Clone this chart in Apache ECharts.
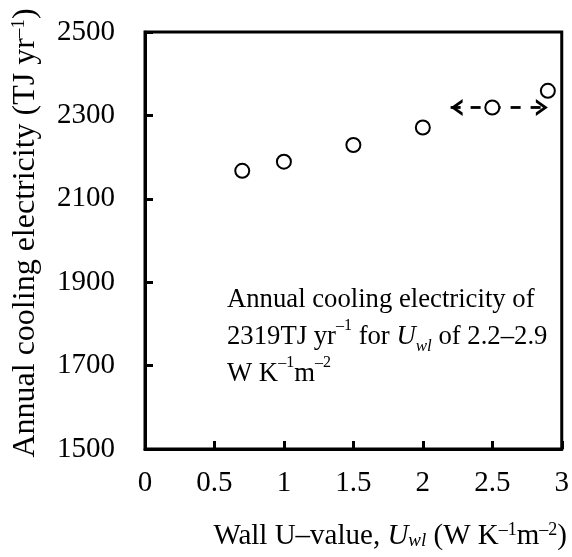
<!DOCTYPE html>
<html>
<head>
<meta charset="utf-8">
<script src="https://cdn.jsdelivr.net/npm/echarts@6/dist/echarts.min.js"></script>
<style>
  html, body { margin: 0; padding: 0; background: #fff; }
  #chart { width: 572px; height: 557px; }
</style>
</head>
<body>
<div id="chart"></div>
<script>
// Wall U-value (W K^-1 m^-2) and annual cooling electricity (TJ/yr)
const uValues = [0.7, 1.0, 1.5, 2.0, 2.5, 2.9];
const coolingTJ = [2167, 2189, 2229, 2271, 2319, 2359];

// Flat range: same cooling demand across this U-value span
const flatRangeU = [2.2, 2.9];
const flatCooling = 2319;

// Axis ranges
const xRange = { min: 0, max: 3, step: 0.5 };
const yRange = { min: 1500, max: 2500, step: 200 };

const serif = "'Liberation Serif', 'Times New Roman', serif";

// Open chevron (points up before rotation)
const chevron = 'path://M0,10 L10,0 L20,10 L16,10 L10,4 L4,10 Z';

const chart = echarts.init(document.getElementById('chart'), null, { renderer: 'canvas' });

const supStyle = (size, lh) => ({ fontFamily: serif, fontSize: size, verticalAlign: 'top', lineHeight: lh, color: '#000' });
const subStyle = (size, lh) => ({ fontFamily: serif, fontSize: size, fontStyle: 'italic', verticalAlign: 'bottom', lineHeight: lh, color: '#000' });

chart.setOption({
  animation: false,
  backgroundColor: '#fff',
  grid: {
    left: 145, top: 32, width: 419, height: 417,
    show: true, borderColor: '#000', borderWidth: 3, backgroundColor: 'transparent'
  },
  xAxis: {
    type: 'value', min: xRange.min, max: xRange.max, interval: xRange.step,
    axisLine: { show: true, lineStyle: { color: '#000', width: 3 } },
    axisTick: { show: true, inside: true, length: 8, lineStyle: { color: '#000', width: 3 } },
    splitLine: { show: false },
    axisLabel: {
      showMinLabel: true, showMaxLabel: true, margin: 20,
      fontFamily: serif, fontSize: 29, color: '#000', lineHeight: 29,
      formatter: (v) => String(v)
    }
  },
  yAxis: {
    type: 'value', min: yRange.min, max: yRange.max, interval: yRange.step,
    axisLine: { show: true, lineStyle: { color: '#000', width: 3 } },
    axisTick: { show: true, inside: true, length: 8, lineStyle: { color: '#000', width: 3 } },
    splitLine: { show: false },
    axisLabel: {
      showMinLabel: true, showMaxLabel: true, margin: 30,
      fontFamily: serif, fontSize: 29, color: '#000',
      formatter: (v) => String(v)
    }
  },
  series: [
    {
      // dashed double arrow marking the flat range
      type: 'line',
      z: 2,
      data: [
        { value: [flatRangeU[0], flatCooling], symbolRotate: 90, symbolOffset: [6, 0] },
        { value: [flatRangeU[1], flatCooling], symbolRotate: -90, symbolOffset: [-6, 0] }
      ],
      symbol: chevron,
      symbolSize: [17, 12],
      showSymbol: true,
      itemStyle: { color: '#000' },
      lineStyle: { color: '#000', width: 2.8, type: [10, 10] },
      silent: true
    },
    {
      type: 'scatter',
      z: 3,
      data: uValues.map((u, i) => [u, coolingTJ[i]]),
      symbol: 'circle',
      symbolSize: 14,
      itemStyle: { color: '#fff', borderColor: '#000', borderWidth: 2, opacity: 1 },
      silent: true
    }
  ],
  graphic: [
    {
      // y-axis title
      type: 'text',
      x: 26, y: 233,
      rotation: Math.PI / 2,
      style: {
        text: 'Annual cooling electricity (TJ yr{sup|–1})',
        fontFamily: serif, fontSize: 32, fill: '#000',
        align: 'center', verticalAlign: 'middle', lineHeight: 32,
        rich: { sup: supStyle(19, 19) }
      }
    },
    {
      // x-axis title
      type: 'text',
      x: 567, y: 536,
      style: {
        text: 'Wall U–value, {it|U}{sub|wl} (W K{sup|–1}m{sup|–2})',
        fontFamily: serif, fontSize: 29, fill: '#000',
        align: 'right', verticalAlign: 'middle', lineHeight: 29,
        rich: {
          it: { fontFamily: serif, fontSize: 29, fontStyle: 'italic', lineHeight: 29, color: '#000' },
          sub: subStyle(19, 19),
          sup: supStyle(18, 18)
        }
      }
    },
    {
      // annotation inside the plot
      type: 'text',
      x: 227, y: 281,
      style: {
        text: 'Annual cooling electricity of\n2319TJ yr{sup|–1} for {it|U}{sub|wl} of 2.2–2.9\nW K{sup|–1}m{sup|–2}',
        fontFamily: serif, fontSize: 26.7, fill: '#000',
        align: 'left', verticalAlign: 'top', lineHeight: 37,
        rich: {
          it: { fontFamily: serif, fontSize: 26.7, fontStyle: 'italic', lineHeight: 37, color: '#000' },
          sub: subStyle(17, 27),
          sup: supStyle(16, 27)
        }
      }
    }
  ]
});
</script>
</body>
</html>
